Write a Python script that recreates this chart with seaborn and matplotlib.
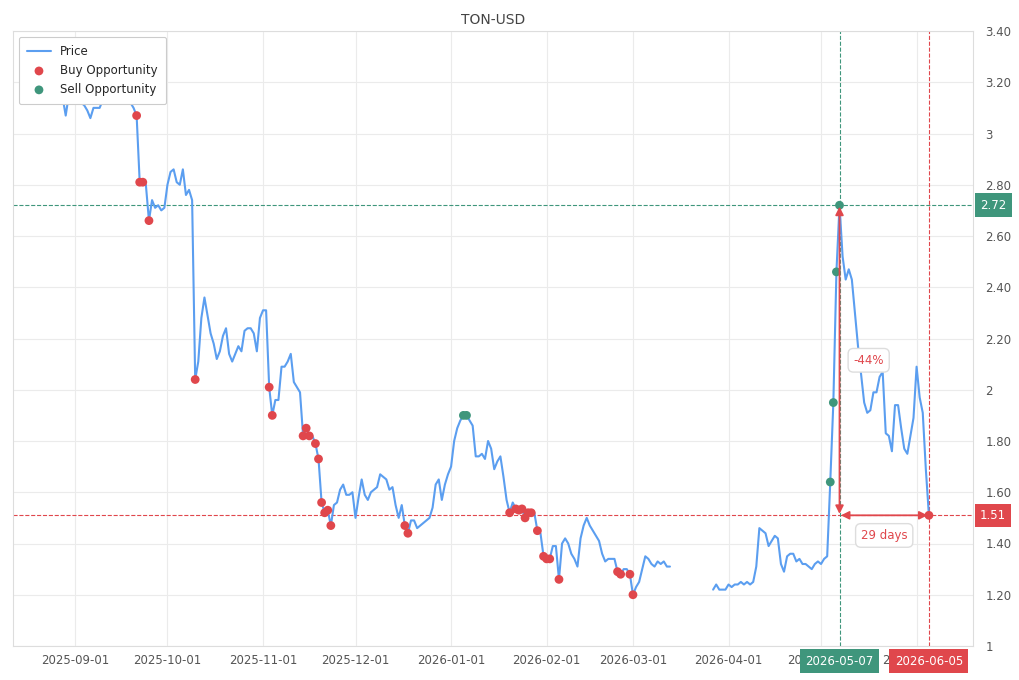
import numpy as np
import pandas as pd
import matplotlib
matplotlib.use('Agg')
import matplotlib.pyplot as plt
import matplotlib.dates as mdates
from matplotlib.ticker import FuncFormatter
import seaborn as sns

# daily close, first value is 2025-08-27, None = no data
start_date = '2025-08-27'
prices = [
    3.15, 3.14, 3.07, 3.15, 3.17, 3.16, 3.14, 3.12, 3.11, 3.09,
    3.06, 3.10, 3.10, 3.10, 3.13, 3.17, 3.20, 3.18, 3.16, 3.18,
    3.19, 3.17, 3.14, 3.12, 3.10, 3.07, 2.81, 2.81, 2.80, 2.66,
    2.74, 2.71, 2.72, 2.70, 2.71, 2.80, 2.85, 2.86, 2.81, 2.80,
    2.86, 2.76, 2.78, 2.74, 2.04, 2.11, 2.28, 2.36, 2.29, 2.22,
    2.18, 2.12, 2.15, 2.21, 2.24, 2.14, 2.11, 2.14, 2.17, 2.15,
    2.23, 2.24, 2.24, 2.22, 2.15, 2.28, 2.31, 2.31, 2.01, 1.90,
    1.96, 1.96, 2.09, 2.09, 2.11, 2.14, 2.03, 2.01, 1.99, 1.82,
    1.85, 1.82, 1.82, 1.79, 1.73, 1.56, 1.52, 1.53, 1.47, 1.55,
    1.56, 1.61, 1.63, 1.59, 1.59, 1.60, 1.50, 1.58, 1.65, 1.59,
    1.57, 1.60, 1.61, 1.62, 1.67, 1.66, 1.65, 1.61, 1.62, 1.55,
    1.50, 1.55, 1.47, 1.44, 1.49, 1.49, 1.46, 1.47, 1.48, 1.49,
    1.50, 1.54, 1.63, 1.65, 1.57, 1.63, 1.67, 1.70, 1.80, 1.85,
    1.88, 1.90, 1.90, 1.88, 1.86, 1.74, 1.74, 1.75, 1.73, 1.80,
    1.77, 1.69, 1.72, 1.74, 1.66, 1.57, 1.52, 1.56, 1.535, 1.53,
    1.535, 1.50, 1.52, 1.52, 1.52, 1.45, 1.44, 1.35, 1.34, 1.34,
    1.39, 1.39, 1.26, 1.40, 1.42, 1.40, 1.36, 1.34, 1.31, 1.42,
    1.47, 1.50, 1.47, 1.45, 1.43, 1.41, 1.36, 1.33, 1.34, 1.34,
    1.34, 1.29, 1.28, 1.30, 1.30, 1.28, 1.20, 1.23, 1.25, 1.30,
    1.35, 1.34, 1.32, 1.31, 1.33, 1.32, 1.33, 1.31, 1.31,
    None, None, None, None, None, None, None, None, None, None,
    None, None, None,
    1.22, 1.24, 1.22, 1.22, 1.22, 1.24, 1.23, 1.24, 1.24, 1.25,
    1.24, 1.25, 1.24, 1.25, 1.31, 1.46, 1.45, 1.44, 1.39, 1.41,
    1.43, 1.42, 1.32, 1.29, 1.35, 1.36, 1.36, 1.33, 1.34, 1.32,
    1.32, 1.31, 1.30, 1.32, 1.33, 1.32, 1.34, 1.35, 1.64, 1.95,
    2.46, 2.72, 2.52, 2.43, 2.47, 2.43, 2.30, 2.17, 2.06, 1.95,
    1.91, 1.92, 1.99, 1.99, 2.05, 2.07, 1.83, 1.82, 1.76, 1.94,
    1.94, 1.85, 1.77, 1.75, 1.82, 1.89, 2.09, 1.97, 1.91, 1.69,
    1.51,
]

buy_dates = [
    '2025-09-21', '2025-09-22', '2025-09-23', '2025-09-25', '2025-10-10',
    '2025-11-03', '2025-11-04', '2025-11-14', '2025-11-15', '2025-11-16',
    '2025-11-18', '2025-11-19', '2025-11-20', '2025-11-21', '2025-11-22',
    '2025-11-23', '2025-12-17', '2025-12-18', '2026-01-20', '2026-01-22',
    '2026-01-23', '2026-01-24', '2026-01-25', '2026-01-26', '2026-01-27',
    '2026-01-29', '2026-01-31', '2026-02-01', '2026-02-02', '2026-02-05',
    '2026-02-24', '2026-02-25', '2026-02-28', '2026-03-01', '2026-06-05',
]
sell_dates = ['2026-01-05', '2026-01-06', '2026-05-04', '2026-05-05',
              '2026-05-06', '2026-05-07']

peak_date = '2026-05-07'
exit_date = '2026-06-05'

RED = '#e0474c'
GREEN = '#3f967c'
BLUE = '#5b9ef0'
GREY_TXT = '#555555'

dates = pd.date_range(start_date, periods=len(prices), freq='D')
df = pd.DataFrame({'date': dates, 'price': np.array(prices, dtype=float)})
# split into continuous segments so the gap stays open
df['seg'] = df['price'].isna().cumsum()
df = df.dropna()

buys = df[df['date'].isin(pd.to_datetime(buy_dates))]
sells = df[df['date'].isin(pd.to_datetime(sell_dates))]

peak_dt = pd.Timestamp(peak_date)
exit_dt = pd.Timestamp(exit_date)
peak_px = df.loc[df['date'] == peak_dt, 'price'].iloc[0]
exit_px = df.loc[df['date'] == exit_dt, 'price'].iloc[0]
pct = (exit_px / peak_px - 1) * 100
n_days = (exit_dt - peak_dt).days

sns.set_style('whitegrid')
plt.rcParams['font.family'] = ['DejaVu Sans']

fig = plt.figure(figsize=(10.2, 6.8), dpi=100)
ax = fig.add_axes([13 / 1020, 34 / 680, 960 / 1020, 615 / 680])

first = True
for seg, part in df.groupby('seg'):
    sns.lineplot(data=part, x='date', y='price', ax=ax, color=BLUE, lw=1.5,
                 label='Price' if first else '_nolegend_', legend=False)
    first = False
sns.scatterplot(data=buys, x='date', y='price', ax=ax, color=RED, s=40,
                edgecolor='none', label='Buy Opportunity', zorder=4)
sns.scatterplot(data=sells, x='date', y='price', ax=ax, color=GREEN, s=40,
                edgecolor='none', label='Sell Opportunity', zorder=4)

# reference lines
ax.axhline(peak_px, color=GREEN, ls='--', lw=0.8, zorder=1)
ax.axhline(exit_px, color=RED, ls='--', lw=0.8, zorder=1)
ax.axvline(peak_dt, color=GREEN, ls='--', lw=0.8, zorder=1)
ax.axvline(exit_dt, color=RED, ls='--', lw=0.8, zorder=1)

# arrows
ax.annotate('', xy=(peak_dt, exit_px), xytext=(peak_dt, peak_px),
            arrowprops=dict(arrowstyle='<|-|>', color=RED, lw=1.3,
                            mutation_scale=12, shrinkA=1, shrinkB=1), zorder=5)
ax.annotate('', xy=(exit_dt, exit_px), xytext=(peak_dt, exit_px),
            arrowprops=dict(arrowstyle='<|-|>', color=RED, lw=1.3,
                            mutation_scale=12, shrinkA=1, shrinkB=1), zorder=5)

box = dict(boxstyle='round,pad=0.45', fc='white', ec='#dddddd', lw=1)
ax.annotate(f'{pct:.0f}%', xy=(peak_dt, (peak_px + exit_px) / 2),
            xytext=(21, 0), textcoords='offset points', ha='center', va='center',
            color=RED, fontsize=8.5, bbox=box, zorder=6)
mid_dt = peak_dt + (exit_dt - peak_dt) / 2
ax.annotate(f'{n_days} days', xy=(mid_dt, exit_px), xytext=(0, -14.5),
            textcoords='offset points', ha='center', va='center',
            color=RED, fontsize=8.5, bbox=box, zorder=6)

# axes limits and ticks
ax.set_xlim(pd.Timestamp(start_date) - pd.Timedelta(days=15.1),
            pd.Timestamp(start_date) + pd.Timedelta(days=296.3))
ax.set_ylim(1, 3.4)
ax.set_yticks(np.arange(1, 3.41, 0.2))
ax.yaxis.set_major_formatter(FuncFormatter(
    lambda v, p: f'{v:.0f}' if abs(v - round(v)) < 1e-6 else f'{v:.2f}'))
ax.yaxis.tick_right()
ax.xaxis.set_major_locator(mdates.MonthLocator())
ax.xaxis.set_major_formatter(mdates.DateFormatter('%Y-%m-%d'))
ax.tick_params(axis='both', length=0, labelsize=8.5, labelcolor=GREY_TXT)
ax.tick_params(axis='y', pad=9)
ax.tick_params(axis='x', pad=6)
ax.set_xlabel('')
ax.set_ylabel('')
ax.grid(color='#ebebeb', lw=0.8)
for sp in ax.spines.values():
    sp.set_color('#dddddd')
    sp.set_linewidth(0.8)

ax.set_title('TON-USD', fontsize=10, color='#444444', pad=5)

# value tags on the right axis
for val, col in [(peak_px, GREEN), (exit_px, RED)]:
    ax.annotate(f'{val:.2f}', xy=(1, val), xycoords=('axes fraction', 'data'),
                xytext=(5, 0), textcoords='offset points', ha='left', va='center',
                color='white', fontsize=8.5, zorder=7, annotation_clip=False,
                bbox=dict(boxstyle='square,pad=0.45', fc=col, ec='none'))
# date tags under the x axis
for dt, col in [(peak_dt, GREEN), (exit_dt, RED)]:
    ax.annotate(dt.strftime('%Y-%m-%d'), xy=(dt, 0), xycoords=('data', 'axes fraction'),
                xytext=(0, -11), textcoords='offset points', ha='center', va='center',
                color='white', fontsize=8.5, zorder=7, annotation_clip=False,
                bbox=dict(boxstyle='square,pad=0.45', fc=col, ec='none'))

leg = ax.legend(loc='upper left', fontsize=8.5, frameon=True, facecolor='white',
                edgecolor='#cccccc', framealpha=1, borderpad=0.7)
leg.get_frame().set_linewidth(0.8)

fig.savefig('out.png', dpi=100)
